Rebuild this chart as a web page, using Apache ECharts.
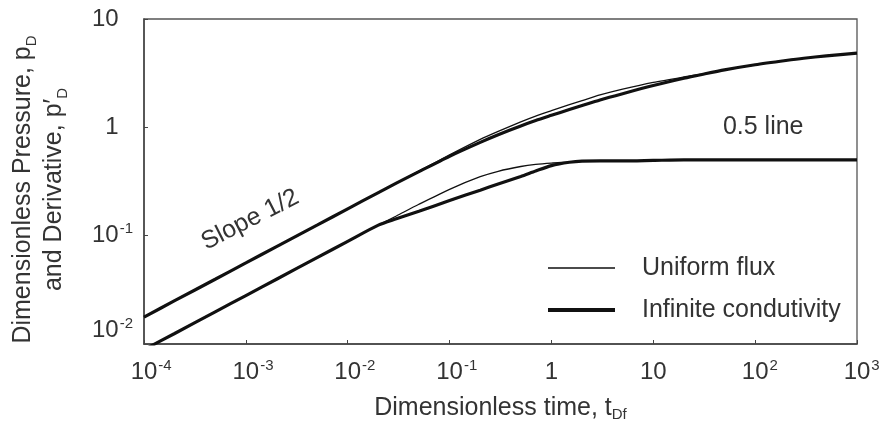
<!DOCTYPE html>
<html>
<head>
<meta charset="utf-8">
<script src="https://cdn.jsdelivr.net/npm/echarts@6/dist/echarts.min.js"></script>
<style>
  html, body { margin: 0; padding: 0; background: #ffffff; }
  #chart { width: 885px; height: 432px; }
</style>
</head>
<body>
<div id="chart"></div>
<script>
// Dimensionless time t_Df
const timeD = [1e-4, 2e-4, 5e-4, 1e-3, 2e-3, 5e-3, 1e-2, 2e-2, 3e-2, 5e-2,
               0.1, 0.2, 0.3, 0.5, 0.7, 1, 1.5, 2, 3, 5, 10, 20, 30, 50, 100, 200, 300, 500, 1000];

// Dimensionless pressure p_D
const pdUniform  = [0.0177, 0.0251, 0.0396, 0.056, 0.0793, 0.125, 0.177, 0.25, 0.306, 0.395,
                    0.556, 0.773, 0.917, 1.123, 1.27, 1.425, 1.62, 1.765, 1.99, 2.25, 2.60, 2.92, 3.105, 3.39, 3.78, 4.14, 4.345, 4.565, 4.85];
const pdInfinite = [0.0177, 0.0251, 0.0396, 0.056, 0.0793, 0.125, 0.177, 0.25, 0.305, 0.39,
                    0.54, 0.726, 0.853, 1.03, 1.155, 1.29, 1.46, 1.59, 1.79, 2.045, 2.43, 2.835, 3.075, 3.39, 3.78, 4.14, 4.345, 4.565, 4.85];

// Pressure derivative p'_D
const derivUniform  = [0.00886, 0.0125, 0.0198, 0.028, 0.0396, 0.0627, 0.0886, 0.125, 0.152, 0.195,
                       0.268, 0.35, 0.393, 0.435, 0.455, 0.468, 0.478, 0.488, 0.49, 0.49, 0.495, 0.5, 0.5, 0.5, 0.5, 0.5, 0.5, 0.5, 0.5];
const derivInfinite = [0.00886, 0.0125, 0.0198, 0.028, 0.0396, 0.0627, 0.0886, 0.125, 0.143, 0.168,
                       0.211, 0.263, 0.30, 0.352, 0.395, 0.443, 0.476, 0.488, 0.49, 0.49, 0.495, 0.5, 0.5, 0.5, 0.5, 0.5, 0.5, 0.5, 0.5];

// Decade tick labels (rich text: g = invisible spacer, s = superscript exponent)
const xTickExp  = [-4, -3, -2, -1, 0, 1, 2, 3];
const xTickText = ['{g|-4}10{s|-4}', '{g|-3}10{s|-3}', '{g|-2}10{s|-2}', '{g|-1}10{s|-1}',
                   '1', '10', '{g|2}10{s|2}', '{g|3}10{s|3}'];
const yTickExp  = [-2, -1, 0, 1];
const yTickText = ['10{s|-2}', '10{s|-1}', '1{g|-1}', '10{g|-1}'];

const seriesNames = ['Uniform flux', 'Infinite condutivity'];

const FONT = '"Liberation Sans", Arial, Helvetica, sans-serif';
const TEXT = '#333333';
const INK = '#111111';

const richTick = {
  s: { fontSize: 15, fontFamily: FONT, color: TEXT, verticalAlign: 'top', lineHeight: 15, padding: [0, 0, 0, 1] },
  g: { fontSize: 15, fontFamily: FONT, color: 'rgba(0,0,0,0)', lineHeight: 15, padding: [0, 1, 0, 0] }
};
const richSub = { sub: { fontSize: 15, fontFamily: FONT, color: TEXT, verticalAlign: 'bottom', lineHeight: 15 } };

// Legend keys: a horizontal stroke centred in a 67 x 14 box
const legendKey = (h) => 'path://M0,0L0,0ZM0,14L0,14ZM0,' + (7 - h / 2) + 'L67,' + (7 - h / 2) +
                         'L67,' + (7 + h / 2) + 'L0,' + (7 + h / 2) + 'Z';

const pairs = (ys) => timeD.map((t, i) => [t, ys[i]]);

const chart = echarts.init(document.getElementById('chart'), null, { renderer: 'canvas' });

const thin = { color: INK, width: 1.3 };
const thick = { color: INK, width: 3.2 };
const curve = (name, ys, style, z) => ({
  name, type: 'line', data: pairs(ys), symbol: 'none',
  smooth: 0.25, lineStyle: style, itemStyle: { color: INK }, z
});

chart.setOption({
  animation: false,
  backgroundColor: '#ffffff',
  grid: { left: 138, right: 28, top: 19, bottom: 88, show: true, borderColor: '#555', borderWidth: 1.3, backgroundColor: 'transparent' },
  legend: {
    data: [
      { name: seriesNames[0], icon: legendKey(1.4) },
      { name: seriesNames[1], icon: legendKey(3.8) }
    ],
    orient: 'vertical',
    left: 548, top: 254, padding: 0,
    itemWidth: 67, itemHeight: 14, itemGap: 14,
    selectedMode: false,
    itemStyle: { color: INK, borderWidth: 0 },
    textStyle: { fontSize: 25, fontFamily: FONT, color: TEXT, lineHeight: 28, padding: [0, 0, 0, 22] }
  },
  xAxis: {
    type: 'log', logBase: 10, min: 1e-4, max: 1e3, splitNumber: 7,
    axisLine: { show: true, lineStyle: { color: '#444', width: 1.5 } },
    axisTick: { show: true, inside: true, length: 4, lineStyle: { color: '#444' } },
    minorTick: { show: false },
    splitLine: { show: false },
    axisLabel: {
      margin: 14, fontSize: 24, fontFamily: FONT, color: TEXT, lineHeight: 28,
      formatter: (v) => xTickText[xTickExp.indexOf(Math.round(Math.log10(v)))] || '',
      rich: richTick
    },
    name: 'Dimensionless time, t{sub|Df}',
    nameLocation: 'middle', nameGap: 50,
    nameTextStyle: { fontSize: 25, fontFamily: FONT, color: TEXT, lineHeight: 28, rich: richSub }
  },
  yAxis: {
    type: 'log', logBase: 10, min: 0.01, max: 10, splitNumber: 3,
    axisLine: { show: true, lineStyle: { color: '#444', width: 1.5 } },
    axisTick: { show: true, inside: true, length: 4, lineStyle: { color: '#444' } },
    minorTick: { show: false },
    splitLine: { show: false },
    axisLabel: {
      margin: 11, fontSize: 24, fontFamily: FONT, color: TEXT, lineHeight: 28,
      verticalAlignMinLabel: 'bottom',
      formatter: (v) => yTickText[yTickExp.indexOf(Math.round(Math.log10(v)))] || '',
      rich: richTick
    },
    name: 'Dimensionless Pressure, p{sub|D}\nand Derivative, p′{sub|D}',
    nameLocation: 'middle', nameGap: 74, nameRotate: 90,
    nameTextStyle: {
      fontSize: 25, fontFamily: FONT, color: TEXT, lineHeight: 31, align: 'center',
      padding: [0, 16, 0, 0], rich: richSub
    }
  },
  series: [
    curve(seriesNames[1], pdInfinite, thick, 2),
    curve(seriesNames[1], derivInfinite, thick, 2),
    curve(seriesNames[0], pdUniform, thin, 3),
    curve(seriesNames[0], derivUniform, thin, 3)
  ]
});

// Annotations anchored to data coordinates [t_Df, value]
const notes = [
  { text: 'Slope 1/2', at: [0.0011, 0.14], rotation: 27 * Math.PI / 180 },
  { text: '0.5 line', at: [120, 1.0], rotation: 0 }
];
chart.setOption({
  graphic: notes.map((n) => {
    const p = chart.convertToPixel({ gridIndex: 0 }, n.at);
    return {
      type: 'text', x: p[0], y: p[1], rotation: n.rotation, z: 10,
      style: { text: n.text, fontSize: 25, fontFamily: FONT, fill: TEXT, align: 'center', verticalAlign: 'middle' }
    };
  })
});
</script>
</body>
</html>
